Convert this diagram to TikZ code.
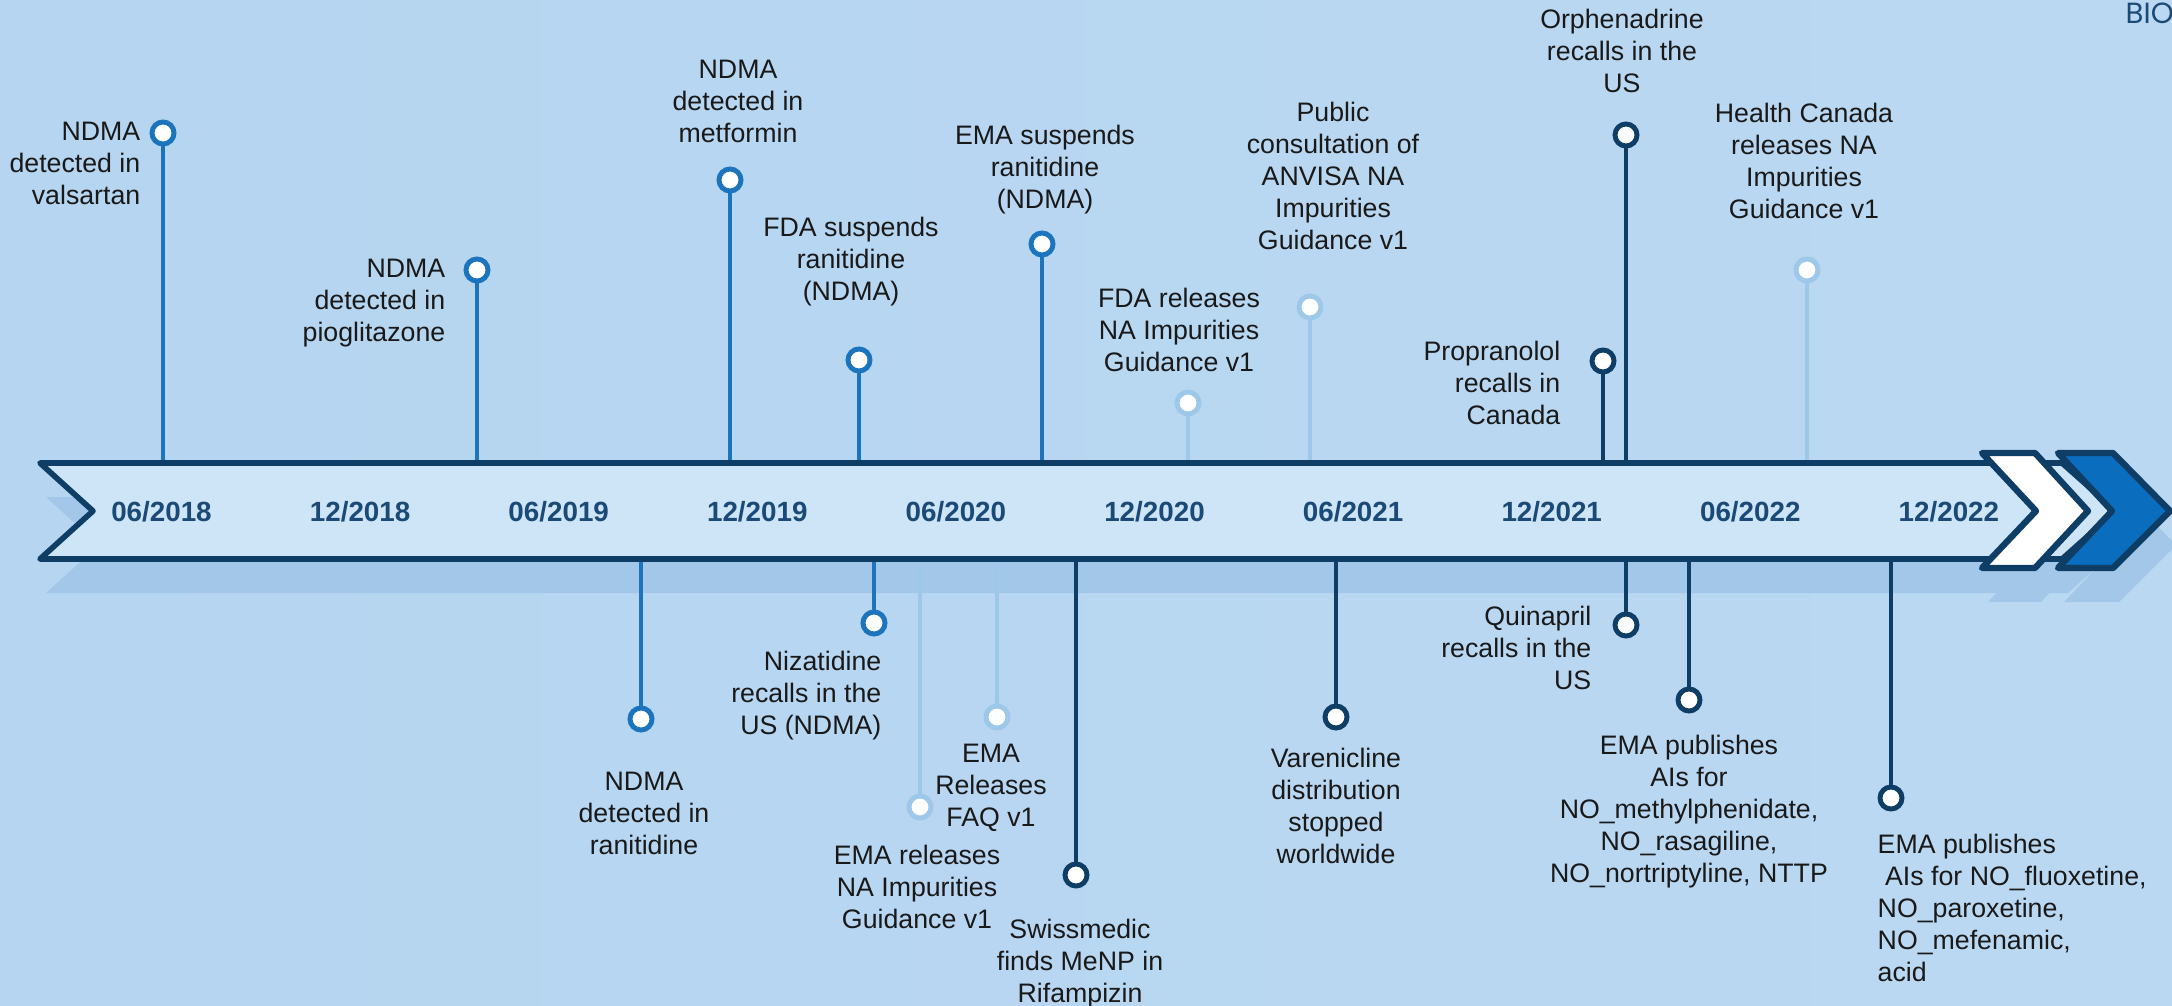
\documentclass[tikz,border=0pt]{standalone}
\usepackage{fontspec}
\setmainfont{Liberation Sans}
\newfontfamily\biofont{Poppins}

\definecolor{navy}{HTML}{0E3D66}
\definecolor{midblue}{HTML}{1C75BC}
\definecolor{lightblue}{HTML}{9EC8EA}
\definecolor{bandfill}{HTML}{CDE5F7}
\definecolor{shadowfill}{HTML}{A2C7E8}
\definecolor{chevblue}{HTML}{0B6DBE}
\definecolor{datecol}{HTML}{1B4A76}
\definecolor{bgL}{HTML}{B5D5F0}
\definecolor{bgM}{HTML}{D7E9F8}
\definecolor{bgR}{HTML}{BBD8F2}

\begin{document}
\begin{tikzpicture}[x=0.01cm, y=-0.01cm]
    \tikzset{
        knob/.style         =   { circle
                                , fill=white
                                , line width=1.4pt
                                , minimum size=0.22cm
                                , inner sep=0pt
        }
        , stemline/.style   =   { line width=1.3pt
        }
        , lbl/.style        =   { font=\fontsize{7.6}{9.1}\selectfont
                                , inner sep=0pt
                                , text=black!90
        }
        , date/.style       =   { font=\bfseries\fontsize{7.9}{9}\selectfont
                                , text=datecol
                                , inner sep=0pt
        }
        , outline/.style    =   { draw=navy
                                , line width=1.6pt
                                , line join=round
        }
    }
    \useasboundingbox (0,0) rectangle (2172,1006);
    \clip (0,0) rectangle (2172,1006);
    \shade[left color=bgL, middle color=bgM, right color=bgR] (0,0) rectangle (2172,1006);

    % shadow of the band
    \begin{scope}[shift={(6,34)}]
        \fill[shadowfill] (40,463) -- (2062,463) -- (2116,511) -- (2062,559) -- (40,559) -- (93,511) -- cycle;
        \fill[shadowfill] (1982,453) -- (2035,453) -- (2088,511) -- (2035,568) -- (1982,568) -- (2036,511) -- cycle;
        \fill[shadowfill] (2058,453) -- (2113,453) -- (2170,511) -- (2113,568) -- (2058,568) -- (2112,511) -- cycle;
    \end{scope}

    % events above the band
    \node(c1)[knob, draw=midblue]   at (163,133)  {};
    \node(c2)[knob, draw=midblue]   at (477,270)  {};
    \node(c3)[knob, draw=midblue]   at (730,180)  {};
    \node(c4)[knob, draw=midblue]   at (859,360)  {};
    \node(c5)[knob, draw=midblue]   at (1042,244) {};
    \node(c6)[knob, draw=lightblue] at (1188,403) {};
    \node(c7)[knob, draw=lightblue] at (1310,307) {};
    \node(c8)[knob, draw=navy]      at (1603,361) {};
    \node(c9)[knob, draw=navy]      at (1626,135) {};
    \node(c10)[knob, draw=lightblue] at (1807,270) {};

    % events below the band
    \node(c11)[knob, draw=midblue]   at (641,719)  {};
    \node(c12)[knob, draw=midblue]   at (874,623)  {};
    \node(c13)[knob, draw=lightblue] at (920,807)  {};
    \node(c14)[knob, draw=lightblue] at (997,717)  {};
    \node(c15)[knob, draw=navy]      at (1076,875) {};
    \node(c16)[knob, draw=navy]      at (1336,717) {};
    \node(c17)[knob, draw=navy]      at (1626,625) {};
    \node(c18)[knob, draw=navy]      at (1689,700) {};
    \node(c19)[knob, draw=navy]      at (1891,798) {};

    \foreach \n/\x in {1/163, 2/477, 3/730, 4/859, 5/1042, 6/1188, 7/1310, 8/1603, 9/1626, 10/1807}
        \coordinate (b\n) at (\x,463);
    \foreach \n/\x in {11/641, 12/874, 13/920, 14/997, 15/1076, 16/1336, 17/1626, 18/1689, 19/1891}
        \coordinate (b\n) at (\x,559);

    \foreach \n in {1,2,3,4,5,11,12}
        \draw[stemline, midblue] (c\n) -- (b\n);
    \foreach \n in {6,7,10,13,14}
        \draw[stemline, lightblue] (c\n) -- (b\n);
    \foreach \n in {8,9,15,16,17,18,19}
        \draw[stemline, navy] (c\n) -- (b\n);

    % band and chevrons
    \draw[outline, fill=bandfill] (40,463) -- (2062,463) -- (2116,511) -- (2062,559) -- (40,559) -- (93,511) -- cycle;
    \draw[outline, line width=1.8pt, fill=white] (1982,453) -- (2035,453) -- (2088,511) -- (2035,568) -- (1982,568) -- (2036,511) -- cycle;
    \draw[outline, line width=1.8pt, fill=chevblue] (2058,453) -- (2113,453) -- (2170,511) -- (2113,568) -- (2058,568) -- (2112,511) -- cycle;

    \foreach \d [count=\i from 0] in {06/2018, 12/2018, 06/2019, 12/2019, 06/2020, 12/2020, 06/2021, 12/2021, 06/2022, 12/2022}
        \node(d\i)[date] at ({161.5+198.6*\i}, 512) {\d};

    % texts
    \node(t1)[lbl, align=right, anchor=north east]  at (141,121)  {NDMA\\detected in\\valsartan};
    \node(t2)[lbl, align=right, anchor=north east]  at (446,258)  {NDMA\\detected in\\pioglitazone};
    \node(t3)[lbl, align=center, anchor=north]      at (738,59)   {NDMA\\detected in\\metformin};
    \node(t4)[lbl, align=center, anchor=north]      at (851,216)  {FDA suspends\\ranitidine\\(NDMA)};
    \node(t5)[lbl, align=center, anchor=north]      at (1045,124) {EMA suspends\\ranitidine\\(NDMA)};
    \node(t6)[lbl, align=center, anchor=north]      at (1179,287) {FDA releases\\NA Impurities\\Guidance v1};
    \node(t7)[lbl, align=center, anchor=north]      at (1333,101) {Public\\consultation of\\ANVISA NA\\Impurities\\Guidance v1};
    \node(t8)[lbl, align=right, anchor=north east]  at (1561,340) {Propranolol\\recalls in\\Canada};
    \node(t9)[lbl, align=center, anchor=north]      at (1622,8)   {Orphenadrine\\recalls in the\\US};
    \node(t10)[lbl, align=center, anchor=north]     at (1804,102) {Health Canada\\releases NA\\Impurities\\Guidance v1};

    \node(t11)[lbl, align=center, anchor=north]     at (644,771)  {NDMA\\detected in\\ranitidine};
    \node(t12)[lbl, align=right, anchor=north east] at (882,650)  {Nizatidine\\recalls in the\\US (NDMA)};
    \node(t13)[lbl, align=center, anchor=north]     at (917,844)  {EMA releases\\NA Impurities\\Guidance v1};
    \node(t14)[lbl, align=center, anchor=north]     at (991,743)  {EMA\\Releases\\FAQ v1};
    \node(t15)[lbl, align=center, anchor=north]     at (1080,918) {Swissmedic\\finds MeNP in\\Rifampizin};
    \node(t16)[lbl, align=center, anchor=north]     at (1336,747) {Varenicline\\distribution\\stopped\\worldwide};
    \node(t17)[lbl, align=right, anchor=north east] at (1592,605) {Quinapril\\recalls in the\\US};
    \node(t18)[lbl, align=center, anchor=north]     at (1689,734) {EMA publishes\\AIs for\\NO\_methylphenidate,\\NO\_rasagiline,\\NO\_nortriptyline, NTTP};
    \node(t19)[lbl, align=left, anchor=north west]  at (1877,833) {EMA publishes\\\ AIs for NO\_fluoxetine,\\NO\_paroxetine,\\NO\_mefenamic,\\acid};

    \node(bio)[anchor=west, inner sep=0pt, text=datecol, font=\biofont\fontsize{8.3}{9}\selectfont] at (2125,13) {BIO};
\end{tikzpicture}
\end{document}
